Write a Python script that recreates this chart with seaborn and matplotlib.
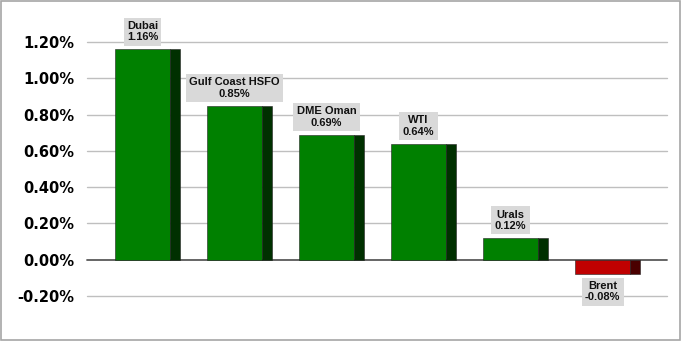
import matplotlib
matplotlib.use("Agg")
import matplotlib.pyplot as plt
import seaborn as sns
import pandas as pd
import numpy as np
from matplotlib.patches import Rectangle

categories = ["Dubai", "Gulf Coast HSFO", "DME Oman", "WTI", "Urals", "Brent"]
values = [1.16, 0.85, 0.69, 0.64, 0.12, -0.08]
labels = ["1.16%", "0.85%", "0.69%", "0.64%", "0.12%", "-0.08%"]
yticks = [-0.2, 0.0, 0.2, 0.4, 0.6, 0.8, 1.0, 1.2]

sns.set_theme(style="white")
plt.rcParams['font.family'] = ['DejaVu Sans']

df = pd.DataFrame({"cat": categories, "val": values})
front_colors = ["#008000" if v >= 0 else "#C00000" for v in values]
side_colors = ["#003000" if v >= 0 else "#4A0000" for v in values]

fig = plt.figure(figsize=(6.81, 3.41), dpi=100)
fig.patches.append(Rectangle((0.001, 0.002), 0.997, 0.995, transform=fig.transFigure,
                             fill=False, edgecolor="#A6A6A6", linewidth=1.2))
ax = fig.add_axes([87/681, 1-296/341, (667-87)/681, (296-42)/341])

face_w = 0.6
side_w = 0.11
sns.barplot(data=df, x="cat", y="val", hue="cat", palette=front_colors, legend=False,
            saturation=1, width=face_w, ax=ax, edgecolor="#222222", linewidth=0.4, zorder=3)
x = np.arange(len(categories))
ax.bar(x + face_w/2 + side_w/2, values, width=side_w, color=side_colors,
       edgecolor="#222222", linewidth=0.4, zorder=3)

ax.set_xlim(-0.603, 5.70)
ax.set_ylim(-0.2, 1.2)
ax.set_yticks(yticks)
ax.set_yticklabels([f"{t:.2f}%" for t in yticks], fontsize=10.5, fontweight="bold", color="#000000")
ax.tick_params(axis="y", length=0, pad=9)
ax.set_xticks([])
ax.set_xlabel("")
ax.set_ylabel("")
for s in ax.spines.values():
    s.set_visible(False)
for t in yticks:
    ax.axhline(t, color="#595959" if t == 0 else "#BFBFBF", linewidth=1.3 if t == 0 else 1.0,
               zorder=1, clip_on=False)

for i, (c, v, l) in enumerate(zip(categories, values, labels)):
    if v >= 0:
        off = 5.0
        va = "bottom"
    else:
        off = -5.0
        va = "top"
    ax.annotate(f"{c}\n{l}", xy=(i, v), xytext=(0, off), textcoords="offset points",
                ha="center", va=va, fontsize=8, fontweight="bold",
                family=["Liberation Sans", "DejaVu Sans"], color="#111111",
                linespacing=1.15, annotation_clip=False, zorder=5,
                bbox=dict(boxstyle="square,pad=0.3", facecolor="#D9D9D9", edgecolor="none"))

fig.savefig("out.png", dpi=100, facecolor="white")
